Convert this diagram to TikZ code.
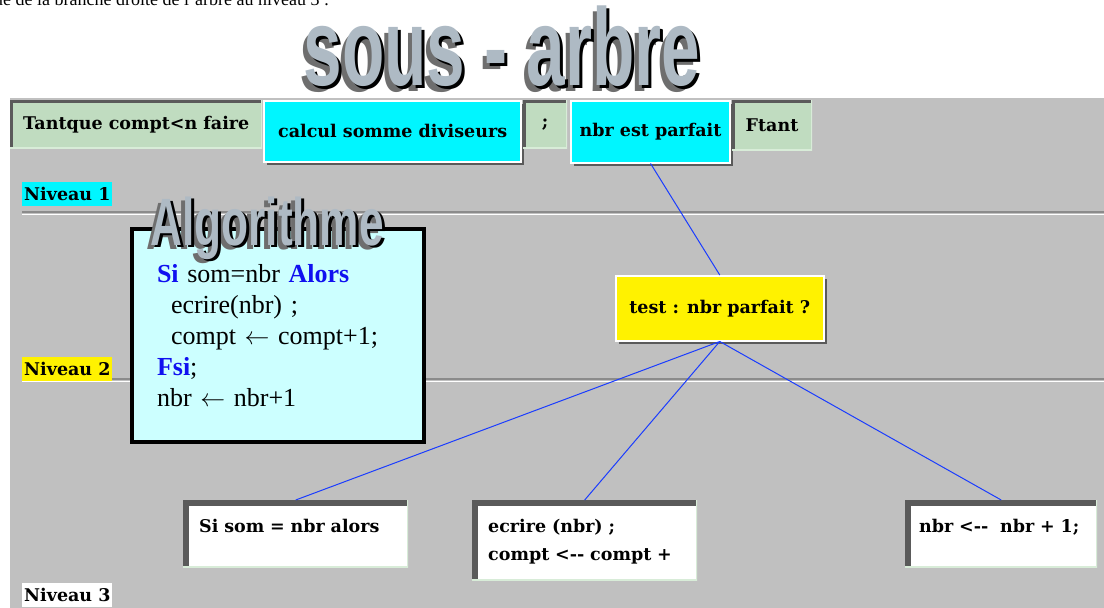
\documentclass[tikz,border=0pt]{standalone}
\usepackage{fontspec}
\setmainfont{Liberation Serif}
\newfontfamily\boxface{DejaVu Serif}
\newfontfamily\artface{Liberation Sans}
\usepackage{xcolor}
\usetikzlibrary{positioning,shadows}

\definecolor{panelgrey}{HTML}{C0C0C0}
\definecolor{boxgreen}{HTML}{C0DCC0}
\definecolor{boxcyan}{HTML}{00F6FF}
\definecolor{algocyan}{HTML}{CCFFFF}
\definecolor{rimgrey}{HTML}{5A5A5A}
\definecolor{linkblue}{HTML}{1A3CFF}
\definecolor{keyblue}{HTML}{1010F0}
\definecolor{artfacecol}{HTML}{AEBAC4}
\definecolor{artshade}{HTML}{6E6E6E}
\definecolor{rimlight}{HTML}{D8ECD8}

\newcommand{\boxfont}{\boxface\fontsize{17.5}{28}\selectfont\bfseries}
\newcommand{\algofont}{\fontsize{26}{31}\selectfont}

\begin{document}
\begin{tikzpicture}[x=1pt, y=-1pt,
  sunken/.style={inner sep=0pt, font=\boxfont, path picture={
      \draw[line width=#1, rimgrey] (path picture bounding box.south west) -- (path picture bounding box.north west) -- (path picture bounding box.north east);
      \draw[line width=3pt, rimlight] (path picture bounding box.south west) -- (path picture bounding box.south east) -- (path picture bounding box.north east);}},
  sunken/.default=6pt,
  raised/.style={fill=#1, inner sep=0pt, font=\boxfont, draw=white, line width=1.5pt,
      drop shadow={shadow xshift=3pt, shadow yshift=-3pt, fill=rimgrey, opacity=1}},
  raised/.default=boxcyan,
  leaf/.style={sunken=12pt, fill=white, anchor=north west, inner xsep=16pt, inner ysep=0pt,
      text width=#1, align=left, text height=32pt},
  level/.style={fill=#1, font=\boxfont, anchor=north west, inner sep=2pt, minimum height=24pt},
  link/.style={linkblue, line width=1pt},
  arttext/.style={font=\artface\bfseries\fontsize{#1}{#1}\selectfont, anchor=base, inner sep=0pt}]
\useasboundingbox (0,0) rectangle (1104,608);

% page text and panel
\node[anchor=base west, font=\fontsize{18}{22}\selectfont, inner sep=0pt] (intro) at (-6,5) {ue de la branche droite de l'arbre au niveau 3 :};
\fill[panelgrey] (10,98) rectangle (1104,608);

% titre
\node[arttext=110, artshade] (titleshade) at (498,91) {\scalebox{0.63}[1]{sous - arbre}};
\node[arttext=110, black] (titleside) at (505,88) {\scalebox{0.63}[1]{sous - arbre}};
\node[arttext=110, artfacecol] (title) at (502,85) {\scalebox{0.63}[1]{sous - arbre}};

% niveaux
\draw[rimgrey!70, line width=1.5pt] (22,212) -- (1104,212);
\draw[white, line width=1.5pt] (22,214.5) -- (1104,214.5);
\draw[rimgrey!70, line width=1.5pt] (22,379) -- (1104,379);
\draw[white, line width=1.5pt] (22,381.5) -- (1104,381.5);
\node[level=boxcyan] (niv1) at (22,182) {Niveau 1};
\node[level=yellow] (niv2) at (22,357) {Niveau 2};
\node[level=white] (niv3) at (22,583) {Niveau 3};

% boucle
\node[sunken, fill=boxgreen, anchor=north west, minimum width=252pt, minimum height=48pt] (tantque) at (10,100) {Tantque compt<n faire};
\node[raised, anchor=north west, minimum width=257pt, minimum height=61pt] (calcul) at ([xshift=1pt]tantque.north east) {calcul somme diviseurs};
\node[sunken, fill=boxgreen, anchor=north west, minimum width=44pt, minimum height=48pt] (semi) at ([xshift=1pt]calcul.north east) {;};
\node[raised, anchor=north west, minimum width=159pt, minimum height=62pt] (parfait) at ([xshift=3pt]semi.north east) {nbr est parfait};
\node[sunken, fill=boxgreen, anchor=north west, minimum width=80pt, minimum height=50pt] (ftant) at ([xshift=1pt]parfait.north east) {Ftant};

% sous-arbre
\node[raised=yellow, minimum width=208pt, minimum height=65pt, anchor=north west] (test) at (615,275) {test : nbr parfait ?};
\node[leaf=193pt, text depth=35pt] (sisom) at (183,500) {Si som = nbr alors};
\node[leaf=193pt, text depth=48pt] (ecrire) at (472,500) {ecrire (nbr) ;\\compt <-{}- compt +};
\node[leaf=164pt, inner xsep=14pt, text depth=35pt] (nbrplus) at (905,500) {\mbox{nbr <-{}-\ \ nbr + 1;}};
\draw[link] (parfait.south) -- (test.north);
\draw[link] (test.south) -- (sisom.north);
\draw[link] (test.south) -- (ecrire.north);
\draw[link] (test.south) -- (nbrplus.north);

% algorithme
\node[fill=algocyan, draw=black, line width=4pt, anchor=north west, minimum width=292pt, minimum height=213pt,
  text width=242pt, inner xsep=25pt, align=left, font=\algofont] (algo) at (130,227)
  {\textcolor{keyblue}{\textbf{Si}} som=nbr \textcolor{keyblue}{\textbf{Alors}}\\
   \hspace*{14pt}ecrire(nbr) ;\\
   \hspace*{14pt}compt $\leftarrow$ compt+1;\\
   \textcolor{keyblue}{\textbf{Fsi}};\\
   nbr $\leftarrow$ nbr+1};
\node[arttext=67, artshade] (algoshade) at (263,249) {\scalebox{0.66}[1]{Algorithme}};
\node[arttext=67, black] (algoside) at (270,247) {\scalebox{0.66}[1]{Algorithme}};
\node[arttext=67, artfacecol] (algotitle) at (267,245) {\scalebox{0.66}[1]{Algorithme}};
\end{tikzpicture}
\end{document}
